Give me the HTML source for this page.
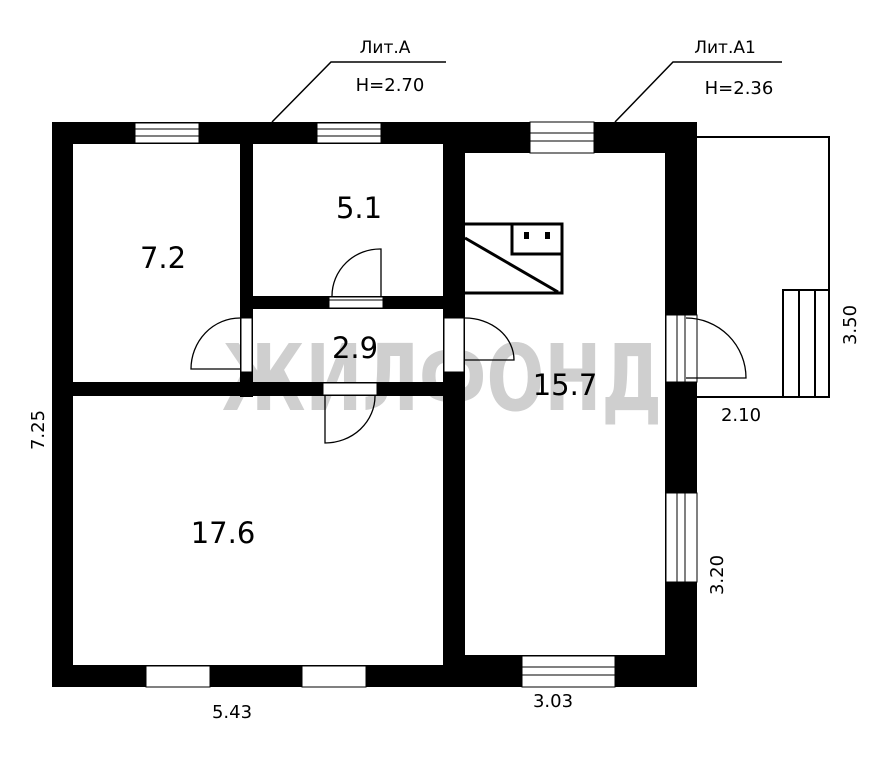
<!DOCTYPE html>
<html><head><meta charset="utf-8"><style>
html,body{margin:0;padding:0;background:#fff;}
svg{display:block;}
text{font-family:"DejaVu Sans","Liberation Sans",sans-serif;fill:#000;}
</style></head><body>
<svg width="886" height="768" viewBox="0 0 886 768" xmlns="http://www.w3.org/2000/svg">
<!-- watermark -->
<text x="442" y="410" font-size="92" font-weight="bold" text-anchor="middle" style="fill:#cfcfcf" textLength="440" lengthAdjust="spacingAndGlyphs">ЖИЛФОНД</text>
<!-- walls -->
<g fill="#000">
<rect x="52" y="122" width="21" height="565"/>
<rect x="52" y="122" width="413" height="22"/>
<rect x="52" y="665" width="413" height="22"/>
<rect x="240" y="122" width="13" height="275"/>
<rect x="240" y="296" width="225" height="13"/>
<rect x="52" y="382" width="413" height="14"/>
<rect x="443" y="122" width="22" height="565"/>
<rect x="443" y="122" width="254" height="31"/>
<rect x="665" y="122" width="32" height="565"/>
<rect x="443" y="655" width="254" height="32"/>
</g>
<!-- windows / openings -->
<g fill="#fff" stroke="#000" stroke-width="1">
<rect x="135" y="123" width="64" height="20"/><line x1="135" y1="129" x2="199" y2="129"/><line x1="135" y1="136" x2="199" y2="136"/>
<rect x="317" y="123" width="64" height="20"/><line x1="317" y1="129" x2="381" y2="129"/><line x1="317" y1="136" x2="381" y2="136"/>
<rect x="530" y="122" width="64" height="31"/><line x1="530" y1="133" x2="594" y2="133"/><line x1="530" y1="141" x2="594" y2="141"/>
<rect x="146" y="666" width="64" height="21"/>
<rect x="302" y="666" width="64" height="21"/>
<rect x="522" y="656" width="93" height="31"/><line x1="522" y1="667" x2="615" y2="667"/><line x1="522" y1="675" x2="615" y2="675"/>
<rect x="666" y="493" width="31" height="89"/><line x1="677" y1="493" x2="677" y2="582"/><line x1="685" y1="493" x2="685" y2="582"/>
<rect x="666" y="315" width="31" height="67"/><line x1="677" y1="315" x2="677" y2="382"/><line x1="685" y1="315" x2="685" y2="382"/>
<rect x="329" y="297" width="54" height="11"/><line x1="329" y1="300" x2="383" y2="300"/>
<rect x="241" y="318" width="11" height="54"/>
<rect x="444" y="318" width="20" height="54"/>
<rect x="323" y="383" width="54" height="12"/>
</g>
<!-- doors -->
<g fill="none" stroke="#000" stroke-width="1.3">
<path d="M381 296 V249 A48 47 0 0 0 332 296"/>
<path d="M240 318 A49 51 0 0 0 191 369 H240"/>
<path d="M465 318 A49 42 0 0 1 514 360 H465"/>
<path d="M375 396 A50 47 0 0 1 325 443 V396"/>
<path d="M686 318 A60 60 0 0 1 746 378 H686"/>
</g>
<!-- porch -->
<g fill="none" stroke="#000" stroke-width="2">
<path d="M697 137 H829 V397 H697"/>
<rect x="783" y="290" width="46" height="107"/>
<line x1="799" y1="290" x2="799" y2="397"/>
<line x1="815" y1="290" x2="815" y2="397"/>
</g>
<!-- stove -->
<g fill="none" stroke="#000" stroke-width="3">
<path d="M465 224 H562 V293 H465"/>
<rect x="512" y="224" width="50" height="30"/>
<line x1="465" y1="238" x2="558" y2="292"/>
</g>
<rect x="524" y="232" width="5" height="7"/><rect x="545" y="232" width="5" height="7"/>
<!-- leaders -->
<g fill="none" stroke="#000" stroke-width="1.5">
<path d="M272 122 L331 62 H446"/>
<path d="M615 122 L673 62 H782"/>
</g>
<text x="385" y="53" font-size="17" text-anchor="middle">Лит.А</text>
<text x="390" y="91" font-size="18" text-anchor="middle">Н=2.70</text>
<text x="725" y="53" font-size="17" text-anchor="middle">Лит.А1</text>
<text x="739" y="94" font-size="18" text-anchor="middle">Н=2.36</text>
<!-- rooms -->
<g font-size="29" text-anchor="middle">
<text x="163" y="268">7.2</text>
<text x="359" y="218">5.1</text>
<text x="355" y="358">2.9</text>
<text x="565" y="395">15.7</text>
<text x="223" y="543">17.6</text>
</g>
<!-- dims -->
<g font-size="18" text-anchor="middle">
<text x="232" y="718">5.43</text>
<text x="553" y="707">3.03</text>
<text x="741" y="421">2.10</text>
<text transform="translate(44,430) rotate(-90)">7.25</text>
<text transform="translate(723,575) rotate(-90)">3.20</text>
<text transform="translate(856,325) rotate(-90)">3.50</text>
</g>
</svg>
</body></html>
